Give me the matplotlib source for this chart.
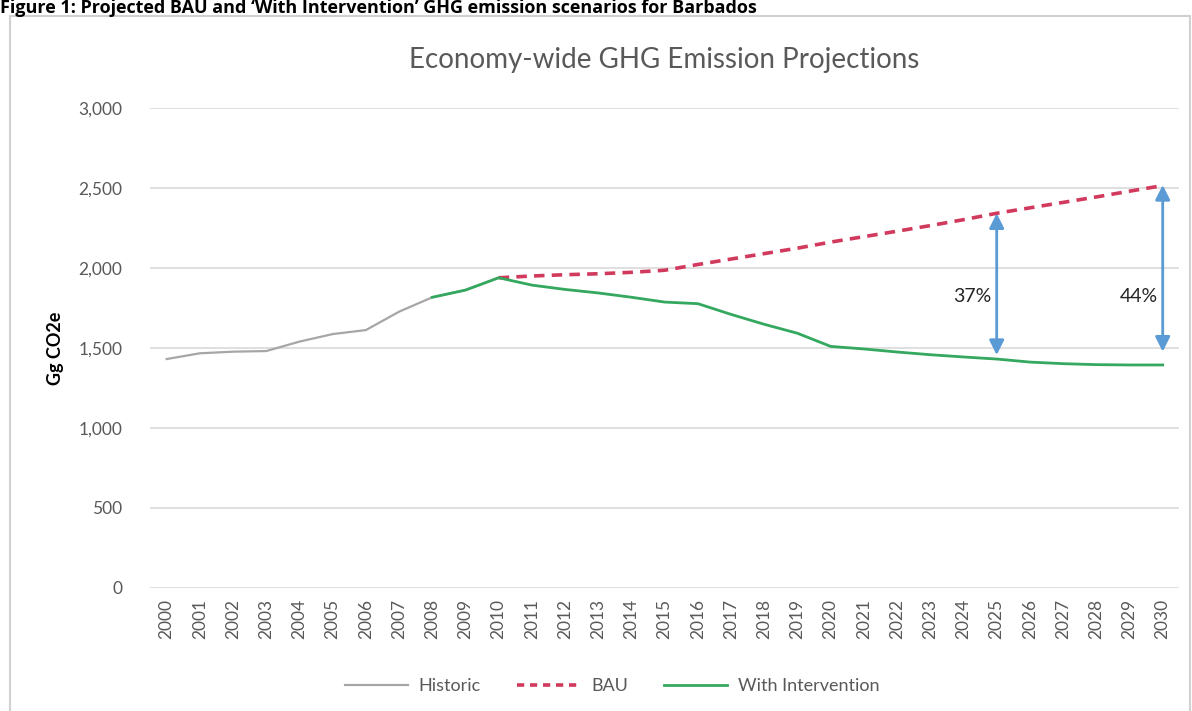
import numpy as np
import matplotlib
matplotlib.use("Agg")
import matplotlib.pyplot as plt
from matplotlib.patches import Rectangle
from matplotlib.lines import Line2D

plt.rcParams['font.family'] = ['Lato', 'DejaVu Sans']

years = [str(y) for y in range(2000, 2031)]
historic = [1431, 1467, 1477, 1481, 1540, 1587, 1612, 1727, 1817, 1862, 1939]  # 2000-2010
bau = [1939, 1950, 1958, 1964, 1973, 1986, 2022, 2056, 2090, 2124, 2162, 2196,
       2230, 2265, 2302, 2342, 2376, 2410, 2444, 2480, 2515]  # 2010-2030
intervention = [1817, 1862, 1939, 1893, 1866, 1844, 1817, 1787, 1777, 1710, 1648,
                1592, 1510, 1494, 1475, 1458, 1444, 1431, 1412, 1402, 1396, 1394, 1394]  # 2008-2030
yticks = [0, 500, 1000, 1500, 2000, 2500, 3000]
arrow_years = ["2025", "2030"]
arrow_top = [2342, 2519]
arrow_bottom = [1456, 1477]
arrow_labels = ["37%", "44%"]
label_y = 1821

fig = plt.figure(figsize=(11.92, 7.11), dpi=100)
ax = fig.add_axes([150.1 / 1192, (711 - 588) / 711, (1179.3 - 150.1) / 1192, (588 - 108) / 711])

# outer chart border
fig.patches.append(Rectangle((10 / 1192, -0.01), 1180 / 1192, (711 - 16) / 711 + 0.01,
                             transform=fig.transFigure, fill=False, edgecolor='#d0d0d0', lw=1.5))

idx_all = np.arange(len(years))
ax.plot(idx_all[years.index("2000"):years.index("2010") + 1], historic, color='#a6a6a6', lw=1.6, zorder=3)
ax.plot(idx_all[years.index("2010"):], bau, color='#d13a5c', lw=2.6, ls=(0, (2.9, 2.0)), zorder=4)
ax.plot(idx_all[years.index("2008"):], intervention, color='#34a85f', lw=2.0, zorder=5)

for yr, top, bot, lab in zip(arrow_years, arrow_top, arrow_bottom, arrow_labels):
    xi = years.index(yr)
    ax.annotate('', xy=(xi, top), xytext=(xi, bot),
                arrowprops=dict(arrowstyle='<|-|>', color='#5b9bd5', lw=2.0,
                                mutation_scale=22, shrinkA=0, shrinkB=0), zorder=6)
    ax.text(xi - 0.15, label_y, lab, ha='right', va='center', fontsize=14, color='#262626',
            zorder=7)

ax.set_xlim(-0.5, len(years) - 0.5)
ax.set_ylim(0, 3000)
ax.set_yticks(yticks)
ax.set_yticklabels([f"{v:,}" for v in yticks])
ax.set_xticks(idx_all)
ax.set_xticklabels(years, rotation=90)
ax.tick_params(axis='both', length=0, colors='#595959', labelsize=12.5)
ax.tick_params(axis='y', pad=20)
ax.tick_params(axis='x', pad=8)
ax.grid(axis='y', color='#d9d9d9', lw=1.2)
ax.set_axisbelow(True)
for s in ax.spines.values():
    s.set_visible(False)

ax.set_ylabel('Gg CO2e', fontsize=13, fontweight='bold', color='black', labelpad=10)
fig.text(0.5 * (150 + 1179) / 1192, 1 - 60 / 711, 'Economy-wide GHG Emission Projections',
         ha='center', va='center', fontsize=20, color='#595959')

fig.text(0.0, 1 - 13 / 711, "Figure 1: Projected BAU and \u2018With Intervention\u2019 GHG emission scenarios for Barbados",
         ha='left', va='baseline', fontsize=13, fontweight='bold', color='black',
         family=['Open Sans', 'DejaVu Sans'])

handles = [Line2D([], [], color='#a6a6a6', lw=1.6),
           Line2D([], [], color='#d13a5c', lw=2.6, ls=(0, (2, 1.6))),
           Line2D([], [], color='#34a85f', lw=2.0)]
fig.legend(handles, ['Historic', 'BAU', 'With Intervention'], loc='center',
           bbox_to_anchor=(612 / 1192, 1 - 686 / 711), ncol=3, frameon=False,
           fontsize=13, labelcolor='#595959', handlelength=3.5, columnspacing=2.0, handletextpad=0.6)

fig.savefig('out.png', dpi=100, facecolor='white')
